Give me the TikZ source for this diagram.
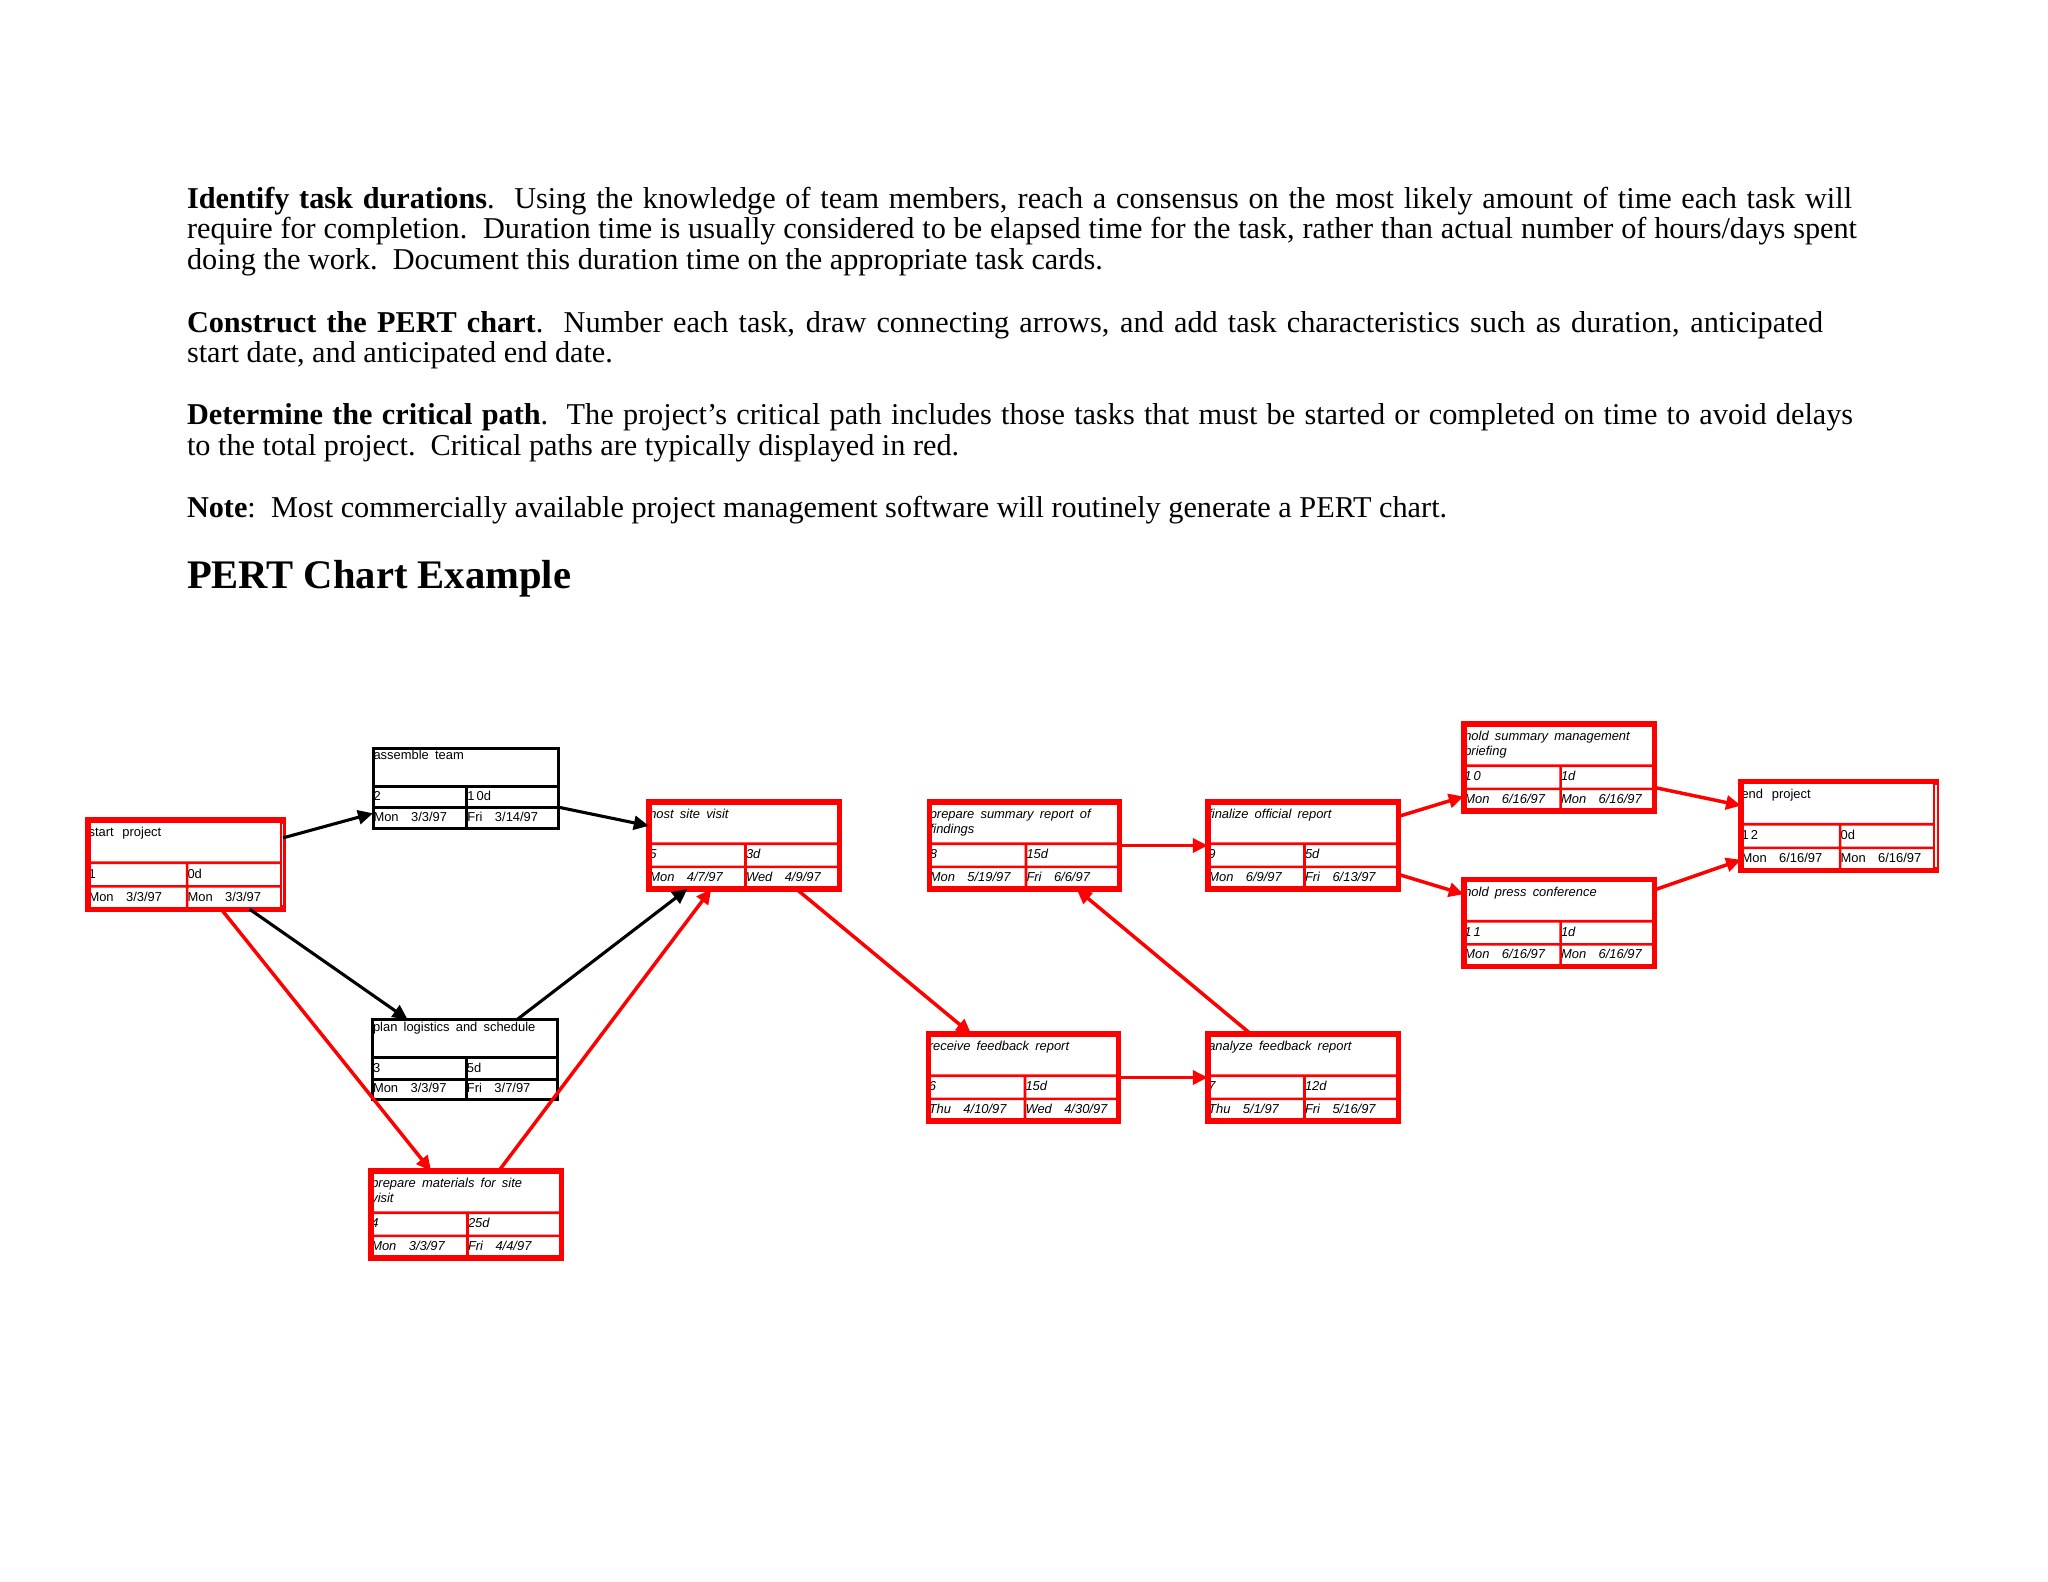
\documentclass[tikz,border=0pt]{standalone}
\usepackage{fontspec}
\setmainfont{Liberation Serif}
\newfontfamily\boxfont{Liberation Sans}
\usetikzlibrary{arrows.meta,calc}

\newcommand\dg{\hspace{4.8pt}}
\newcommand\ds{\hspace{0.8pt}}
\newcommand\bxU{\boxfont\fontsize{5}{5.8}\selectfont\spaceskip 2.4pt\relax}
\newcommand\bxI{\boxfont\itshape\fontsize{5}{5.8}\selectfont\spaceskip 2.4pt\relax}
\newcommand\cells[8]{%
 \coordinate (#1-a) at ($(#1.north west)!0.48!(#1.south west)$);
 \coordinate (#1-b) at ($(#1.north east)!0.48!(#1.south east)$);
 \coordinate (#1-c) at ($(#1.north west)!0.745!(#1.south west)$);
 \coordinate (#1-d) at ($(#1.north east)!0.745!(#1.south east)$);
 \coordinate (#1-m) at ($(#1-a)!0.508!(#1-b)$);
 \coordinate (#1-s) at ($(#1.south west)!0.508!(#1.south east)$);
 \coordinate (#1-k) at ($(#1-c)!0.508!(#1-d)$);
 \node[#3, title#2, anchor=north west, align=left] (#1-t) at ($(#1.north west)+(0.5,2.5)$) {#4};
 \node[#3, anchor=base west] (#1-n) at ($(#1-a)!0.5!(#1-c)+(0.5,3.5)$) {#5};
 \node[#3, anchor=base west] (#1-u) at ($(#1-m)!0.5!(#1-k)+(0.5,3.5)$) {#6};
 \node[#3, anchor=base west] (#1-p) at ($(#1-c)!0.5!(#1.south west)+(0.5,3.5)$) {#7};
 \node[#3, anchor=base west] (#1-q) at ($(#1-k)!0.5!(#1-s)+(0.5,3.5)$) {#8};
 \draw[inner#2] (#1-a) -- (#1-b) (#1-c) -- (#1-d) (#1-m) -- (#1-s);
 \draw[frame#2] (#1.north west) rectangle (#1.south east);
}

\begin{document}
\begin{tikzpicture}[x=0.38672pt, y=-0.38672pt,
 every node/.style={inner sep=0pt, outer sep=0pt},
 para/.style={anchor=base west, font=\fontsize{11.7}{14}\selectfont},
 head/.style={anchor=base west, font=\fontsize{15.7}{18}\selectfont\bfseries},
 taskR/.style={rectangle, minimum width=185*0.38672pt, minimum height=81.5*0.38672pt, outer sep=1.05pt},
 taskK/.style={rectangle, minimum width=182*0.38672pt, minimum height=77*0.38672pt, outer sep=0.58pt},
 taskE/.style={rectangle, minimum width=189.5*0.38672pt, minimum height=84*0.38672pt, outer sep=1.05pt},
 frameR/.style={draw=red, line width=2.1pt},
 innerR/.style={draw=red, line width=1pt},
 frameK/.style={draw=black, line width=1.16pt},
 innerK/.style={draw=black, line width=1.16pt},
 titleR/.style={yshift=-1.9pt},
 titleK/.style={},
 txtU/.style={font=\bxU, text=black},
 txtI/.style={font=\bxI, text=black},
 arrK/.style={-{Triangle[length=5.8pt,width=5.4pt]}, line width=1.2pt, draw=black},
 arrR/.style={-{Triangle[length=5.8pt,width=5.4pt]}, line width=1.35pt, draw=red},
 whitegap/.style={draw=white, line width=0.4pt}
]
\path[use as bounding box, fill=white] (0,0) rectangle (2048,1582);

% ---- text ----
\node[para] (p1a) at (187,209) {\makebox[643.9pt][s]{\textbf{Identify task durations}.\ \ Using the knowledge of team members, reach a consensus on the most likely amount of time each task will}};
\node[para] (p1b) at (187,239) {\makebox[645.8pt][s]{require for completion.\ \ Duration time is usually considered to be elapsed time for the task, rather than actual number of hours/days spent}};
\node[para] (p1c) at (187,270) {doing the work.\ \ Document this duration time on the appropriate task cards.};
\node[para] (p2a) at (187,333) {\makebox[632.7pt][s]{\textbf{Construct the PERT chart}.\ \ Number each task, draw connecting arrows, and add task characteristics such as duration, anticipated}};
\node[para] (p2b) at (187,363) {start date, and anticipated end date.};
\node[para] (p3a) at (187,425) {\makebox[644.3pt][s]{\textbf{Determine the critical path}.\ \ The project’s critical path includes those tasks that must be started or completed on time to avoid delays}};
\node[para] (p3b) at (187,456) {to the total project.\ \ Critical paths are typically displayed in red.};
\node[para] (p4) at (187,518) {\textbf{Note}:\ \ Most commercially available project management software will routinely generate a PERT chart.};
\node[head] (hd) at (187,589) {PERT Chart Example};

% ---- task boxes ----
\node[taskE] (start) at (185.5,864.5) {};
\cells{start}{R}{txtU}{start\hspace{1pt} project}{1}{0d}{Mon\dg 3/3/97}{Mon\dg 3/3/97}
\draw[whitegap] ([yshift=-1.5pt]start.north east) -- ([yshift=1.5pt]start.south east);

\node[taskK] (assemble) at (465.5,788) {};
\cells{assemble}{K}{txtU}{assemble team}{2}{1\ds 0d}{Mon\dg 3/3/97}{Fri\dg 3/14/97}

\node[taskK] (plan) at (465,1059.5) {};
\cells{plan}{K}{txtU}{plan logistics and schedule}{3}{5d}{Mon\dg 3/3/97}{Fri\dg 3/7/97}

\node[taskR] (materials) at (466,1214.5) {};
\cells{materials}{R}{txtI}{prepare materials for site\\visit}{4}{25d}{Mon\dg 3/3/97}{Fri\dg 4/4/97}

\node[taskR] (host) at (744,845.5) {};
\cells{host}{R}{txtI}{host site visit}{5}{3d}{Mon\dg 4/7/97}{Wed\dg 4/9/97}

\node[taskR] (receive) at (1023.5,1077.5) {};
\cells{receive}{R}{txtI}{receive feedback report}{6}{15d}{Thu\dg 4/10/97}{Wed\dg 4/30/97}

\node[taskR] (analyze) at (1303,1077.5) {};
\cells{analyze}{R}{txtI}{analyze feedback report}{7}{12d}{Thu\dg 5/1/97}{Fri\dg 5/16/97}

\node[taskR] (summary) at (1024.5,845.5) {};
\cells{summary}{R}{txtI}{prepare summary report of\\findings}{8}{15d}{Mon\dg 5/19/97}{Fri\dg 6/6/97}

\node[taskR] (finalize) at (1303,845.5) {};
\cells{finalize}{R}{txtI}{finalize official report}{9}{5d}{Mon\dg 6/9/97}{Fri\dg 6/13/97}

\node[taskR] (briefing) at (1559,767.5) {};
\cells{briefing}{R}{txtI}{hold summary management\\briefing}{1\ds 0}{1d}{Mon\dg 6/16/97}{Mon\dg 6/16/97}

\node[taskR] (press) at (1559,923) {};
\cells{press}{R}{txtI}{hold press conference}{1\ds 1}{1d}{Mon\dg 6/16/97}{Mon\dg 6/16/97}

\node[taskE] (end) at (1838.5,826) {};
\cells{end}{R}{txtU}{end\hspace{1pt} project}{1\ds 2}{0d}{Mon\dg 6/16/97}{Mon\dg 6/16/97}
\draw[whitegap] ([yshift=-1.5pt]end.north east) -- ([yshift=1.5pt]end.south east);

% ---- connectors ----
\draw[arrK] (start) -- (assemble);
\draw[arrK] (start) -- (plan);
\draw[arrR] (start) -- (materials);
\draw[arrK] (assemble) -- (host);
\draw[arrK] (plan) -- (host);
\draw[arrR] (materials) -- (host);
\draw[arrR] (host) -- (receive);
\draw[arrR] (receive) -- (analyze);
\draw[arrR] (analyze) -- (summary);
\draw[arrR] (summary) -- (finalize);
\draw[arrR] (finalize) -- (briefing);
\draw[arrR] (finalize) -- (press);
\draw[arrR] (briefing) -- (end);
\draw[arrR] (press) -- (end);
\end{tikzpicture}
\end{document}
